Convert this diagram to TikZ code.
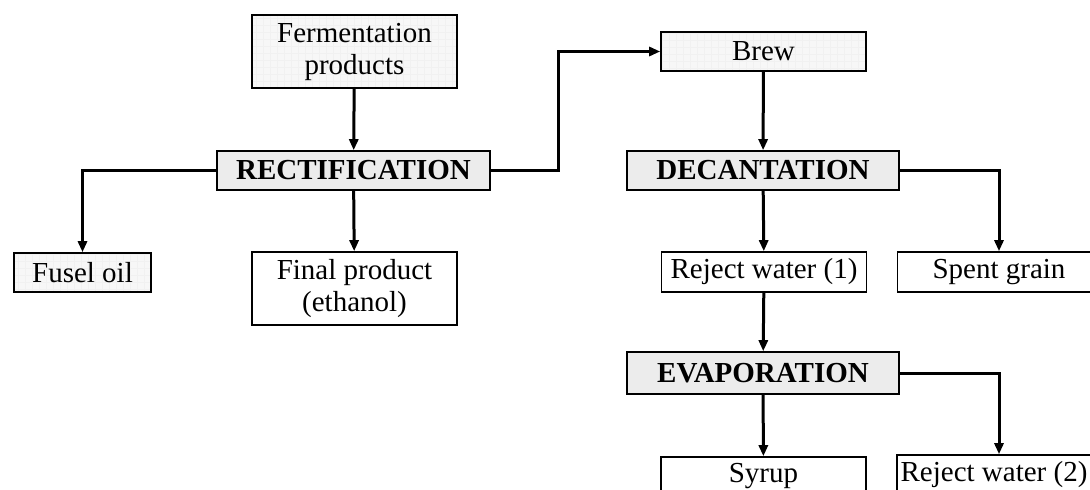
\documentclass[tikz,border=0pt]{standalone}
\usepackage{fontspec}
\setmainfont{Liberation Serif}
\usetikzlibrary{arrows.meta}
\begin{document}
\begin{tikzpicture}[x=1pt,y=-1pt,
  box/.style={draw,line width=1.6pt,rectangle,inner sep=0pt,align=center,
    font=\fontsize{29}{32}\selectfont},
  gridbox/.style={box,fill=gray!6,
    path picture={\draw[gray!11,line width=0.3pt]
      (path picture bounding box.south west) grid[step=7pt]
      (path picture bounding box.north east);}},
  procbox/.style={box,fill=gray!15,font=\fontsize{29}{32}\selectfont\bfseries},
  conn/.style={line width=3pt,-{Triangle[length=11pt,width=9pt]}}]
\useasboundingbox (0,0) rectangle (1090,490);
\clip (0,0) rectangle (1090,490);

\node[gridbox,minimum width=205pt,minimum height=73pt] (ferm) at (354.5,51.5) {Fermentation\\products};
\node[procbox,minimum width=273pt,minimum height=39pt] (rect) at (353.5,170.5) {RECTIFICATION};
\node[gridbox,minimum width=137pt,minimum height=39pt] (fusel) at (82.5,272.5) {Fusel oil};
\node[box,minimum width=205pt,minimum height=73pt] (final) at (354.5,288.5) {Final product\\(ethanol)};
\node[gridbox,minimum width=205pt,minimum height=39pt] (brew) at (763.5,51.5) {Brew};
\node[procbox,minimum width=272pt,minimum height=39pt] (dec) at (763,170.5) {DECANTATION};
\node[box,minimum width=205pt,minimum height=40pt] (rw1) at (764,272) {Reject water (1)};
\node[box,minimum width=203pt,minimum height=40pt] (spent) at (999,272) {Spent grain};
\node[procbox,minimum width=272pt,minimum height=42pt] (evap) at (763,373) {EVAPORATION};
\node[box,minimum width=205pt,minimum height=39pt] (syrup) at (763.5,476.5) {Syrup};
\node[box,minimum width=194pt,minimum height=40pt] (rw2) at (994,475) {Reject water (2)};

\coordinate (bend) at (558,0);

\draw[conn] (ferm) -- (rect);
\draw[conn] (rect.west) -| (fusel.north);
\draw[conn] (rect) -- (final);
\draw[conn] (rect.east) -- (rect.east -| bend) |- (brew.west);
\draw[conn] (brew) -- (dec);
\draw[conn] (dec) -- (rw1);
\draw[conn] (dec.east) -| (spent.north);
\draw[conn] (rw1) -- (evap);
\draw[conn] (evap) -- (syrup);
\draw[conn] (evap.east) -| (rw2.north -| spent);
\end{tikzpicture}
\end{document}
